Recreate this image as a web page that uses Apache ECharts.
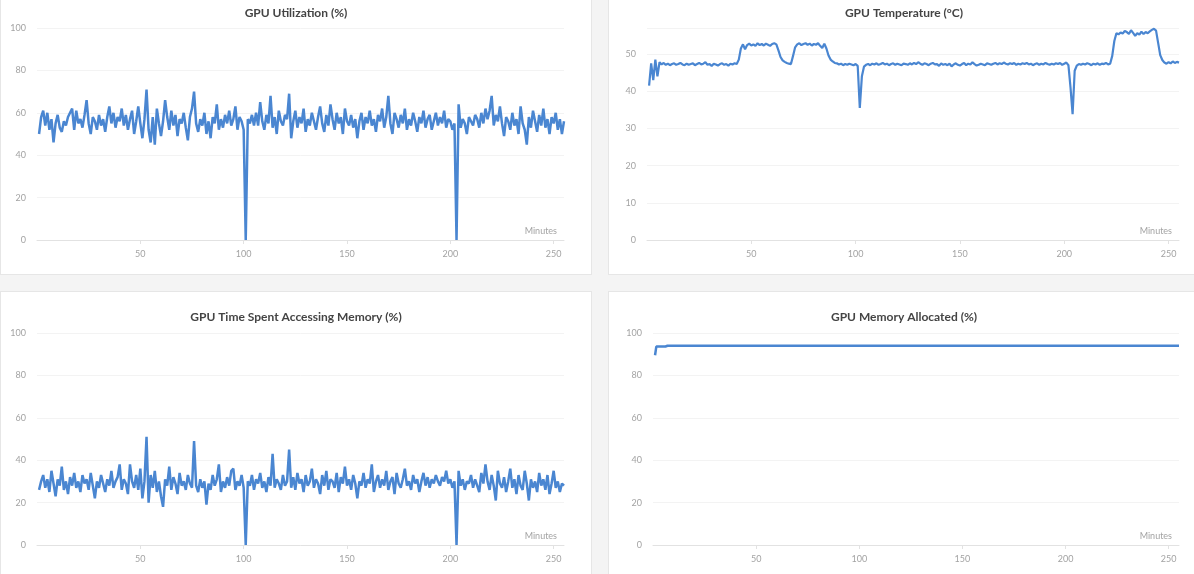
<!DOCTYPE html>
<html>
<head>
<meta charset="utf-8">
<title>GPU metrics</title>
<script src="https://cdn.jsdelivr.net/npm/echarts@6/dist/echarts.min.js"></script>
<style>
html, body { margin: 0; padding: 0; background: #f4f4f4; overflow: hidden; width: 1194px; height: 574px; }
.panel { position: absolute; width: 592px; height: 288px; background: #fff; border: 1px solid #e6e6e6; box-sizing: border-box; }
#p1 { left: 0; top: -13px; }
#p2 { left: 608px; top: -13px; }
#p3 { left: 0; top: 291px; }
#p4 { left: 608px; top: 291px; }
</style>
</head>
<body>
<div class="panel" id="p1"></div>
<div class="panel" id="p2"></div>
<div class="panel" id="p3"></div>
<div class="panel" id="p4"></div>
<script>
// one sample per minute, minutes 1..255
var utilization = [
  50, 58, 61, 54, 60, 52, 57, 46, 55, 59, 53, 51, 56, 54, 58,
  60, 62, 52, 61, 55, 57, 53, 59, 66, 55, 50, 58, 56, 52, 59,
  54, 57, 51, 58, 63, 55, 60, 53, 58, 56, 62, 54, 59, 52, 57,
  61, 50, 56, 63, 55, 48, 57, 71, 52, 46, 58, 45, 62, 55, 49,
  56, 66, 58, 52, 61, 54, 59, 49, 57, 55, 60, 53, 47, 58, 62,
  70, 55, 51, 57, 54, 60, 50, 56, 48, 58, 55, 64, 52, 57, 53,
  59, 55, 61, 54, 57, 63, 52, 58, 56, 52, 0, 57, 55, 59, 54,
  60, 54, 65, 56, 52, 59, 55, 68, 53, 58, 50, 61, 56, 54, 59,
  57, 69, 48, 56, 61, 53, 58, 55, 62, 51, 57, 54, 60, 56, 52,
  58, 63, 55, 51, 59, 54, 64, 57, 52, 60, 55, 58, 50, 62, 56,
  54, 59, 53, 57, 48, 56, 60, 52, 58, 55, 61, 54, 57, 51, 59,
  56, 62, 53, 58, 68, 55, 50, 60, 57, 53, 59, 55, 62, 52, 57,
  54, 60, 56, 51, 58, 55, 61, 53, 57, 59, 52, 56, 60, 54, 58,
  55, 61, 53, 57, 56, 52, 55, 0, 64, 53, 57, 55, 50, 58, 56,
  54, 59, 57, 53, 60, 55, 62, 57, 61, 68, 54, 59, 56, 63, 55,
  49, 58, 56, 52, 60, 54, 57, 50, 63, 55, 52, 45, 58, 53, 61,
  56, 51, 59, 54, 62, 53, 57, 50, 58, 55, 60, 52, 57, 50, 56
];

var temperature = [
  41.5, 47.5, 43, 48.5, 44, 47.8, 47.2, 47.6, 47.1, 47.4, 47.0, 47.3, 47.5, 47.1, 47.3,
  47.6, 47.2, 47.0, 47.4, 47.1, 47.3, 47.5, 47.0, 47.3, 47.6, 47.2, 47.4, 47.8, 47.1, 47.3,
  46.8, 47.4, 47.2, 46.9, 47.3, 47.5, 47.1, 47.3, 46.9, 47.4, 47.2, 47.5, 47.3, 48.5, 51.5,
  52.6, 51.3, 52.4, 52.8, 52.3, 52.6, 52.2, 52.9, 52.4, 52.7, 52.3, 52.8, 52.5, 52.2, 52.7,
  52.9, 52.6, 51.0, 49.2, 48.3, 47.9, 47.6, 47.4, 47.3, 49.5, 51.8, 52.6, 52.9, 52.4, 52.7,
  52.9, 52.5, 52.8, 52.3, 52.7, 52.5, 52.9, 52.2, 51.6, 52.8, 51.5, 49.6, 48.5, 48.0, 47.6,
  47.5, 47.2, 47.4, 47.0, 47.3, 47.1, 47.4, 47.2, 47.0, 47.3, 46.8, 35.5, 44.0, 46.6, 47.1,
  47.3, 47.0, 47.4, 47.2, 47.5, 47.1, 47.3, 47.6, 47.2, 47.4, 47.0, 47.3, 47.5, 47.1, 47.4,
  47.2, 47.0, 47.4, 47.3, 47.1, 47.5, 47.2, 47.6, 47.3, 47.8, 47.4, 47.1, 47.5, 47.3, 47.0,
  47.4, 47.6, 47.2, 47.3, 46.8, 47.5, 47.1, 47.3, 47.0, 47.4, 46.7, 47.2, 47.5, 47.1, 46.9,
  47.3, 47.6, 47.0, 47.4, 47.2, 47.8, 47.3, 46.9, 47.1, 47.4, 47.2, 47.0, 47.5, 47.3, 47.1,
  47.4, 47.6, 47.2, 47.5, 47.3, 47.7, 47.4, 47.2, 47.5, 47.3, 47.6, 47.1, 47.4, 47.2, 47.5,
  47.3, 47.6, 47.2, 47.4, 47.0, 47.3, 47.5, 47.1, 47.4, 47.2, 47.6, 47.3, 47.1, 47.4, 47.2,
  47.5, 47.3, 47.6, 47.1, 47.4, 47.7, 47.0, 41.0, 33.8, 45.5, 46.9, 47.3, 47.1, 47.4, 47.2,
  47.5, 47.3, 47.0, 47.4, 47.2, 47.5, 47.1, 47.4, 47.3, 47.6, 47.2, 47.4, 49.5, 53.5, 55.6,
  55.3, 55.8, 55.5, 56.2, 55.9, 55.4, 56.4, 55.7, 54.9, 55.6, 55.2, 56.0, 55.4, 55.9, 55.6,
  56.1, 56.5, 56.8, 56.3, 53.0, 49.7, 48.4, 47.7, 47.4, 47.8, 47.5, 48.0, 47.6, 47.9, 47.7
];

var memAccess = [
  26, 30, 33, 27, 31, 25, 35, 29, 23, 31, 28, 37, 26, 30, 24,
  32, 28, 34, 27, 30, 25, 33, 29, 31, 26, 34, 28, 22, 30, 27,
  33, 29, 25, 31, 28, 35, 27, 30, 32, 38, 26, 31, 29, 24, 38,
  30, 27, 33, 26, 36, 22, 30, 51, 20, 33, 27, 35, 25, 30, 23,
  18, 31, 28, 37, 26, 32, 29, 24, 34, 28, 30, 26, 33, 29, 27,
  49, 28, 25, 31, 27, 30, 19, 29, 26, 33, 28, 31, 38, 25, 30,
  27, 32, 28, 35, 36, 26, 30, 28, 33, 27, 0, 30, 28, 33, 26,
  31, 29, 34, 27, 30, 25, 32, 28, 43, 27, 31, 29, 26, 33, 28,
  30, 45, 27, 32, 26, 34, 29, 31, 25, 33, 28, 30, 36, 27, 31,
  29, 24, 33, 28, 35, 26, 31, 30, 27, 34, 25, 32, 29, 37, 28,
  31, 26, 33, 29, 22, 30, 28, 34, 27, 31, 29, 38, 25, 30, 33,
  27, 31, 28, 35, 26, 30, 32, 24, 34, 29, 27, 31, 36, 28, 30,
  26, 33, 29, 31, 25, 30, 34, 28, 32, 27, 31, 29, 33, 30, 28,
  32, 30, 35, 29, 31, 27, 30, 0, 35, 28, 31, 26, 30, 29, 33,
  27, 31, 28, 25, 34, 29, 38, 30, 26, 33, 28, 21, 35, 29, 27,
  32, 25, 30, 36, 27, 31, 24, 33, 28, 26, 35, 29, 21, 31, 27,
  30, 25, 34, 28, 31, 26, 33, 24, 29, 35, 27, 30, 25, 29, 28
];

var memAllocMinutes = [1, 1.6, 6, 7, 255];
var memAllocValues = [89.5, 93.6, 93.6, 94, 94];

var percentTicks = { min: 0, max: 100, interval: 20 };
var tempTicks = { min: 0, max: 57, interval: 10 };

function perMinute(values) {
  return values.map(function (v, i) { return [i + 1, v]; });
}

window.gpuCharts = {
  line: function (id, title, data, ticks, grid, width) {
    var chart = echarts.init(document.getElementById(id));
    var labelFont = { color: '#a3a3a3', fontSize: 9, fontFamily: 'Lato' };
    var option = {
      animation: false,
      title: {
        text: title,
        left: 'center',
        top: 19,
        padding: 0,
        textStyle: { fontSize: 12, fontWeight: 'bold', color: '#444', fontFamily: 'Lato' }
      },
      grid: grid,
      xAxis: {
        type: 'value',
        min: 0,
        max: 255,
        interval: 50,
        name: 'Minutes',
        nameLocation: 'end',
        nameGap: -7,
        nameTextStyle: {
          color: '#a3a3a3', fontSize: 9, fontFamily: 'Lato',
          align: 'right', verticalAlign: 'bottom', padding: [0, 0, 4, 0]
        },
        axisLine: { lineStyle: { color: '#e2e2e2' } },
        axisTick: { lineStyle: { color: '#e2e2e2' }, length: 4 },
        axisLabel: Object.assign({ margin: 10, showMinLabel: false, showMaxLabel: false }, labelFont),
        splitLine: { show: false }
      },
      yAxis: {
        type: 'value',
        min: ticks.min,
        max: ticks.max,
        interval: ticks.interval,
        axisLine: { show: false },
        axisTick: { show: false },
        axisLabel: Object.assign({ margin: 11, showMaxLabel: ticks.max % ticks.interval === 0 }, labelFont),
        splitLine: { lineStyle: { color: '#f3f3f3' } }
      },
      series: [{
        type: 'line',
        data: data,
        showSymbol: false,
        symbol: 'none',
        lineStyle: { color: '#4a86d1', width: width || 2 },
        itemStyle: { color: '#4a86d1' }
      }]
    };
    chart.setOption(option);
  }
};

gpuCharts.line('p1', 'GPU Utilization (%)', perMinute(utilization), percentTicks,
  { left: 36, right: 27, top: 40, bottom: 34 }, 2.5);
gpuCharts.line('p2', 'GPU Temperature (°C)', perMinute(temperature), tempTicks,
  { left: 38, right: 20, top: 40, bottom: 34 }, 2.2);
gpuCharts.line('p3', 'GPU Time Spent Accessing Memory (%)', perMinute(memAccess), percentTicks,
  { left: 36, right: 27, top: 41, bottom: 33 }, 2.5);
gpuCharts.line('p4', 'GPU Memory Allocated (%)',
  memAllocMinutes.map(function (m, i) { return [m, memAllocValues[i]]; }), percentTicks,
  { left: 44, right: 20, top: 41, bottom: 33 }, 2.5);
</script>
</body>
</html>
